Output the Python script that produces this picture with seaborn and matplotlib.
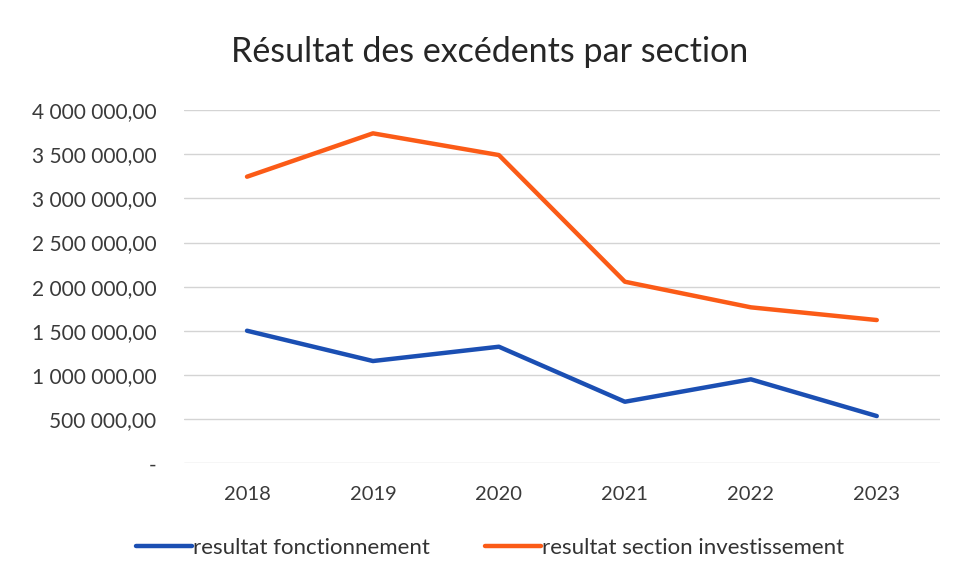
import numpy
import pandas
import seaborn
from matplotlib import pyplot
from matplotlib.ticker import FuncFormatter, MultipleLocator

# data
YEARS = ['2018', '2019', '2020', '2021', '2022', '2023']
FONCTIONNEMENT = [1501000, 1158000, 1320000, 697000, 951000, 535000]
INVESTISSEMENT = [3245000, 3736000, 3490000, 2056000, 1766000, 1622000]
SERIES_NAMES = ['resultat fonctionnement', 'resultat section investissement']
COLORS = ['#1b4fb3', '#fb5b17']
TITLE = 'Résultat des excédents par section'


def french_number(value, position):
    '''4000000 -> "4 000 000,00", 0 -> "-"'''
    if abs(value) < 1:
        return '-'
    text = f'{value:,.2f}'
    return text.replace(',', ' ').replace('.', ',')


def build_data():
    frame = pandas.DataFrame({
        'year': YEARS * 2,
        'value': FONCTIONNEMENT + INVESTISSEMENT,
        'serie': [SERIES_NAMES[0]] * len(YEARS) + [SERIES_NAMES[1]] * len(YEARS),
    })
    return frame


seaborn.set_theme(style='white')
pyplot.rcParams['font.family'] = ['Lato', 'DejaVu Sans']

figure = pyplot.figure(figsize=(9.56, 5.8), dpi=100)
axes = figure.add_axes([0.1925, 0.2012, 0.7905, 0.6091])

data = build_data()
seaborn.lineplot(
    data=data,
    x='year',
    y='value',
    hue='serie',
    palette=COLORS,
    linewidth=3.2,
    sort=False,
    ax=axes,
)

# axes limits and ticks
axes.set_xlim(-0.5, len(YEARS) - 0.5)
axes.set_ylim(0, 4000000)
axes.yaxis.set_major_locator(MultipleLocator(500000))
axes.yaxis.set_major_formatter(FuncFormatter(french_number))
axes.tick_params(axis='y', labelsize=15, colors='#3a3a3a', pad=20, length=0)
axes.tick_params(axis='x', labelsize=14.5, colors='#3a3a3a', pad=16, length=0)
axes.grid(axis='y', color='#d4d4d4', linewidth=1)
axes.set_axisbelow(True)
for spine in axes.spines.values():
    spine.set_visible(False)
axes.set_xlabel('')
axes.set_ylabel('')

# title
figure.text(0.512, 0.91, TITLE, ha='center', va='center',
            fontsize=24.5, color='#262626')

# legend below the plot
axes.legend(
    loc='center',
    bbox_to_anchor=(0.405, -0.24),
    ncol=2,
    frameon=False,
    fontsize=16,
    handlelength=2.5,
    handletextpad=0.05,
    columnspacing=2.5,
    labelcolor='#333333',
)

figure.savefig('out.png', dpi=100)
